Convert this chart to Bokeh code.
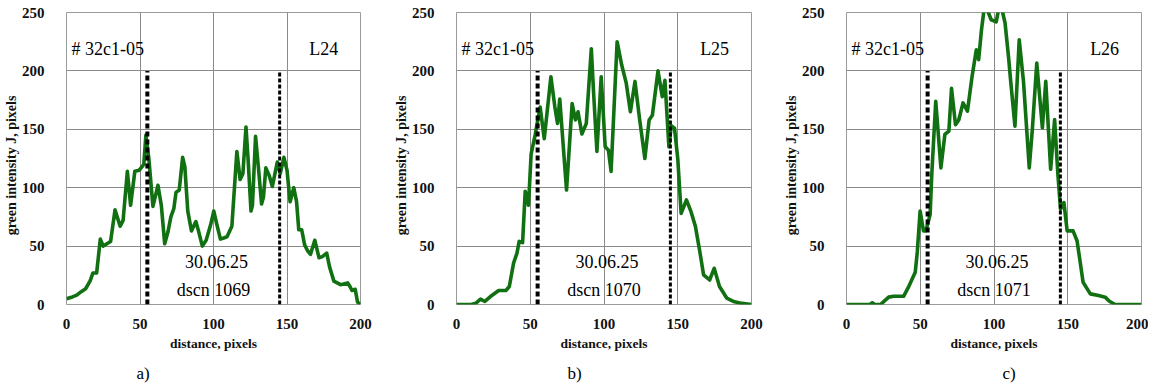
from bokeh.plotting import figure
from bokeh.layouts import row
from bokeh.models import Range1d, FixedTicker, Label, Title
from bokeh.embed import file_html
from bokeh.resources import INLINE

# ---------------- data ----------------
xa = [0, 4, 7, 10, 13, 16, 18, 20.5, 23, 25, 27.5, 30, 33, 36.5, 38.5, 41.4, 43.6, 46.5, 49.5, 52.6,
      54, 56, 58.8, 62.2, 64.5, 66.8, 69, 71, 73, 74.5, 76.7, 79, 80.5, 82.5, 85, 88, 90, 92.4, 95, 98,
      100.2, 102, 104.7, 107, 109.2, 112.5, 115.9, 118.1, 120, 122.1, 123.5, 125.5, 126.5, 128.6, 130.5,
      132.7, 134, 135.6, 138, 140, 143.4, 145.4, 147.9, 150, 152.1, 154.6, 156.5, 158, 160, 162, 164,
      166, 168.9, 171.8, 174, 177, 179, 181.9, 186.4, 191.3, 193, 194.2, 196.4, 198, 200]
ya = [5, 6.5, 8, 11, 13.5, 20, 27, 27, 56, 50, 52, 54, 81, 67, 72, 114, 85, 114, 115, 120,
      145, 125, 84, 102, 85, 52, 62, 75, 82, 96, 98, 126, 118, 80, 63, 71, 62, 50, 55, 68,
      80, 70, 56, 57, 58, 67, 131, 107, 112, 152, 125, 80, 85, 144, 118,
      86, 92, 117, 110, 101, 122, 112, 126, 115, 88, 100, 88, 64, 64, 51, 46,
      43, 55, 40, 41, 44, 32, 20, 17, 18.5, 15, 12, 13, 2, 0]

xb = [0, 10, 13, 16.3, 19.2, 23, 28.6, 33.6, 35.8, 38.7, 41, 42.5, 44.8, 46.6, 48.8, 50.6, 53.3, 56.7,
      59.5, 64, 66.7, 68.5, 70, 74.6, 78.4, 80.6, 82.4, 85, 88, 91.4, 93, 95.2, 98.1, 100.8, 103, 104.8,
      108.9, 112, 115, 117.9, 121, 124, 127.7, 130.6, 132.8, 136.6, 139.5, 141.3, 144, 145.6, 147.8, 150,
      152.3, 155.9, 159, 162, 165, 167.5, 171.6, 174.7, 178.3, 183.2, 187.7, 192.2, 200]
yb = [0, 0, 1, 4.6, 2.6, 6.8, 12, 12, 15.4, 35.4, 44, 54, 53, 97, 85, 129, 145, 169,
      142, 195, 169, 155, 176, 98, 172, 158, 165, 146, 155, 219, 180, 131, 195, 135, 132, 114,
      225, 205, 190, 165, 191, 160, 125, 158, 162, 200, 178, 192, 135, 153, 151, 125,
      78, 89.5, 79.5, 66.7, 45, 25.4, 21, 31, 15.4, 5.5, 2.6, 1.2, 0]

xc = [0, 16, 17.5, 19, 23, 28.6, 32, 38.7, 42, 46.6, 48, 49.9, 52.2, 53.8, 56.7, 57.8, 60.5, 62, 64,
      66.7, 69.4, 71.2, 73.9, 76.1, 79, 82, 85.1, 88, 89.6, 91.5, 93.5, 95.5, 98.1, 101.5, 103.5, 105.5,
      107.5, 110, 111.1, 114.2, 117.1, 120, 123.9, 126, 129, 132.8, 135.1, 138.4, 141.1, 143.3, 145.1,
      147.4, 149.6, 153.6, 156.3, 158, 160.4, 165.3, 170.9, 175.4, 178, 182.1, 200]
yc = [0, 0, 1.5, 0, 0, 6.3, 7.1, 7, 14.8, 27.6, 45, 80, 63, 63, 77, 111, 174, 150, 117,
      145.6, 148.5, 185, 154, 158, 172.6, 165.5, 195, 218, 209.6, 235, 255, 252, 243.8, 242, 255, 252,
      241, 210, 194, 152.7, 226.7, 190.8, 117, 150, 206.7, 151.3, 191, 115.8, 158.4, 111.5, 81.6,
      87.3, 63, 63, 54.6, 40, 19, 9.1, 7.7, 6.3, 3, 0, 0]

x_ticks = [0, 50, 100, 150, 200]
y_ticks = [0, 50, 100, 150, 200, 250]
sample_id = "# 32c1-05"
line_names = ["L24", "L25", "L26"]
dates = ["30.06.25", "30.06.25", "30.06.25"]
frame_names = ["dscn 1069", "dscn 1070", "dscn 1071"]
panel_letters = ["a)", "b)", "c)"]
boundary_x = [55, 145]
boundary_top = 200
x_label = "distance, pixels"
y_label = "green   intensity   J, pixels"

SERIF = "Liberation Serif"
GREEN = "#117011"


def add_text(p, x, y, txt, size="18px"):
    p.add_layout(Label(x=x, y=y, text=txt, text_font=SERIF, text_font_size=size,
                       text_align="center", text_baseline="middle", text_color="black"))


def make_panel(xs, ys, name, date, frame, letter, letter_offset, width, bl, br):
    p = figure(width=width, height=390, output_backend="svg", toolbar_location=None,
               x_range=Range1d(0, 200), y_range=Range1d(0, 250),
               min_border_left=bl, min_border_right=br, min_border_top=12, min_border_bottom=81)
    p.background_fill_color = "white"
    p.border_fill_color = "white"
    p.outline_line_color = "#9a9a9a"
    p.outline_line_width = 1

    for ax in (p.xaxis[0], p.yaxis[0]):
        ax.axis_line_color = None
        ax.major_tick_line_color = None
        ax.minor_tick_line_color = None
        ax.major_label_text_font = SERIF
        ax.major_label_text_font_style = "bold"
        ax.major_label_text_font_size = "15px"
        ax.major_label_text_color = "#111111"
        ax.axis_label_text_font = SERIF
        ax.axis_label_text_font_style = "bold"
        ax.axis_label_text_color = "#111111"
    p.xaxis.ticker = FixedTicker(ticks=x_ticks)
    p.yaxis.ticker = FixedTicker(ticks=y_ticks)
    p.xaxis.major_label_standoff = 8
    p.yaxis.major_label_standoff = 16
    p.xaxis.axis_label = x_label
    p.yaxis.axis_label = y_label
    p.xaxis.axis_label_text_font_size = "13.5px"
    p.yaxis.axis_label_text_font_size = "14px"
    p.xaxis.axis_label_standoff = 4
    p.yaxis.axis_label_standoff = 0

    p.xgrid.grid_line_color = "#8a8a8a"
    p.ygrid.grid_line_color = "#8a8a8a"
    p.xgrid.grid_line_width = 1
    p.ygrid.grid_line_width = 1

    p.line(xs, ys, line_color=GREEN, line_width=3.6, line_join="round")

    p.segment(x0=[boundary_x[0]], y0=[0], x1=[boundary_x[0]], y1=[boundary_top],
              line_color="black", line_width=4, line_dash="5 3")
    p.segment(x0=[boundary_x[1]], y0=[0], x1=[boundary_x[1]], y1=[boundary_top],
              line_color="black", line_width=3, line_dash="4 2")

    add_text(p, 28, 219, sample_id)
    add_text(p, 175, 219, name)
    add_text(p, 102, 36.5, date)
    add_text(p, 100, 12.5, frame)

    p.add_layout(Title(text=letter, align="left", offset=letter_offset, text_font=SERIF,
                       text_font_size="17px", text_font_style="normal", text_color="black",
                       standoff=16), "below")
    return p


p1 = make_panel(xa, ya, line_names[0], dates[0], frame_names[0], panel_letters[0], 70, 390, 62, 30)
p2 = make_panel(xb, yb, line_names[1], dates[1], frame_names[1], panel_letters[1], 111, 390, 64, 29)
p3 = make_panel(xc, yc, line_names[2], dates[2], frame_names[2], panel_letters[2], 156, 368, 64, 7)

layout = row(p1, p2, p3)
open("out.html", "w").write(file_html(layout, INLINE))
